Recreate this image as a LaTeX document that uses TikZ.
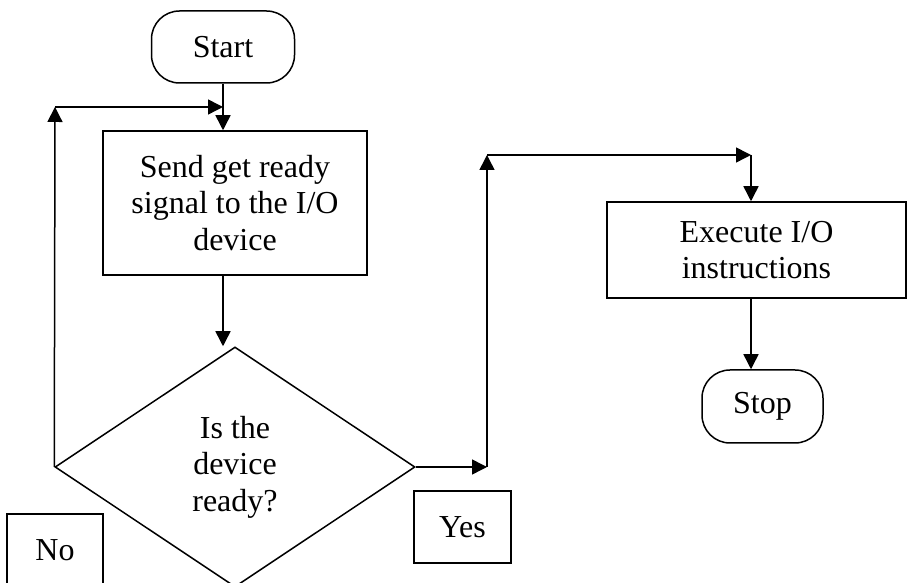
\documentclass[tikz,border=0pt]{standalone}
\usepackage{fontspec}
\setmainfont{Liberation Serif}
\usetikzlibrary{arrows.meta,shapes.geometric}

\tikzset{
	every node/.style={font=\fontsize{32}{36.5}\selectfont, line width=1.5pt},
	term/.style={draw, rounded corners=28pt, inner sep=0pt},
	proc/.style={draw, align=center, inner sep=0pt},
	dec/.style={draw, diamond, aspect=1.5, align=center, inner sep=0pt},
	flow/.style={-{Triangle[length=15pt,width=15pt]}, line width=1.5pt},
}

\begin{document}
\begin{tikzpicture}[x=1pt,y=1pt]
		\useasboundingbox (0,0) rectangle (908,583);
		\node[term, minimum width=143pt, minimum height=72pt] (start) at (223,536) {Start};
		\node[proc, minimum width=264pt, minimum height=144pt] (send) at (235,380) {Send get ready\\signal to the I/O\\device};
		\node[dec, minimum width=360pt, minimum height=240pt] (dev) at (235,116) {Is the\\device\\ready?};
		\node[proc, minimum width=96pt, minimum height=72pt] (no) at (55,33) {No};
		\node[proc, minimum width=97pt, minimum height=72pt] (yes) at (462.5,56) {Yes};
		\node[proc, minimum width=299pt, minimum height=96pt] (exec) at (756.5,333) {Execute I/O\\instructions};
		\node[term, minimum width=121pt, minimum height=73pt] (stop) at (762.5,176.5) {Stop};
		\coordinate (loop) at (55,476);
		\coordinate (yesturn) at (487,116);
		\coordinate (yestop) at (487,428);
		\coordinate (exectop) at (751,428);
		\draw[flow] (start.south) -- (start.south |- send.north);
		\draw[flow] (start.south |- send.south) -- (start.south |- dev.north);
		\draw[flow] (dev.west) -- (loop);
		\draw[flow] (loop) -- (start.south |- loop);
		\draw[flow] (dev.east) -- (yesturn);
		\draw[flow] (yesturn) -- (yestop);
		\draw[flow] (yestop) -- (exectop);
		\draw[flow] (exectop) -- (exectop |- exec.north);
		\draw[flow] (exectop |- exec.south) -- (exectop |- stop.north);
	\end{tikzpicture}
\end{document}
